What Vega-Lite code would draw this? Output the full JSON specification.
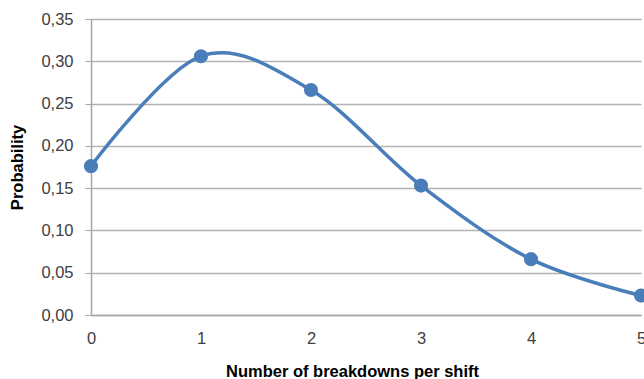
{
  "$schema": "https://vega.github.io/schema/vega-lite/v6.json",
  "width": 550,
  "height": 296,
  "autosize": "none",
  "padding": {"left": 91, "top": 19, "right": 3, "bottom": 64},
  "background": "white",
  "config": {
    "view": {"stroke": null},
    "font": "Liberation Sans"
  },
  "data": {
    "values": [
      {"k": 0, "p": 0.176},
      {"k": 1, "p": 0.306},
      {"k": 2, "p": 0.266},
      {"k": 3, "p": 0.153},
      {"k": 4, "p": 0.066},
      {"k": 5, "p": 0.023}
    ]
  },
  "encoding": {
    "x": {
      "field": "k",
      "type": "quantitative",
      "scale": {"domain": [0, 5], "nice": false},
      "axis": {
        "title": "Number of breakdowns per shift",
        "titleFont": "Liberation Sans",
        "titleFontSize": 16.5,
        "titleFontWeight": "bold",
        "titleColor": "#000000",
        "titlePadding": 17,
        "titleX": 261,
        "values": [0, 1, 2, 3, 4, 5],
        "format": "d",
        "labelFontSize": 16.5,
        "labelColor": "#404040",
        "labelPadding": 15,
        "labelFlush": false,
        "labelOverlap": false,
        "ticks": false,
        "grid": false,
        "domainColor": "#a6a6a6",
        "domainWidth": 1.5
      }
    },
    "y": {
      "field": "p",
      "type": "quantitative",
      "scale": {"domain": [0, 0.35], "nice": false},
      "axis": {
        "title": "Probability",
        "titleFont": "Liberation Sans",
        "titleFontSize": 16.5,
        "titleFontWeight": "bold",
        "titleColor": "#000000",
        "titlePadding": 15,
        "values": [0, 0.05, 0.1, 0.15, 0.2, 0.25, 0.3, 0.35],
        "labelExpr": "replace(format(datum.value, '.2f'), '.', ',')",
        "labelFontSize": 16.5,
        "labelColor": "#404040",
        "labelPadding": 12,
        "tickSize": 6,
        "tickColor": "#a6a6a6",
        "grid": true,
        "gridColor": "#b3b3b3",
        "gridWidth": 1.5,
        "domainColor": "#a6a6a6",
        "domainWidth": 1.5
      }
    }
  },
  "layer": [
    {
      "mark": {"type": "line", "interpolate": "cardinal", "tension": 0, "color": "#4a7ebb", "strokeWidth": 3.5, "clip": false}
    },
    {
      "mark": {"type": "circle", "color": "#4a7ebb", "size": 200, "opacity": 1, "clip": false}
    }
  ]
}
